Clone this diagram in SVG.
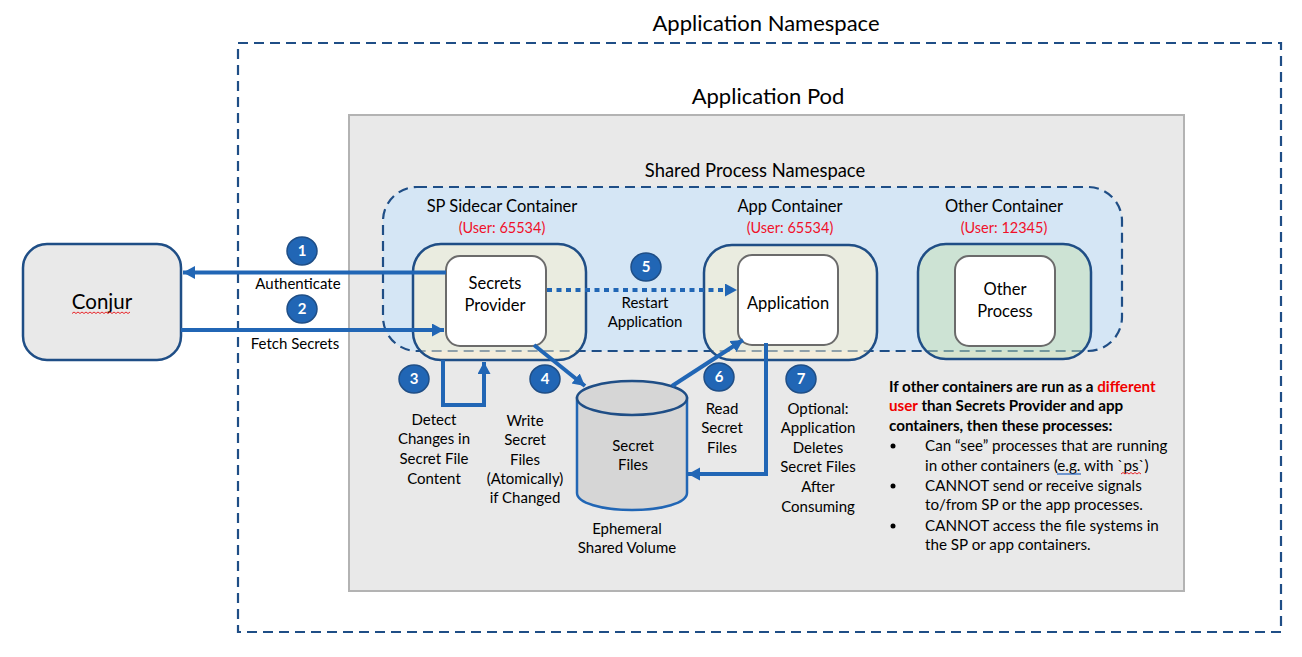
<svg xmlns="http://www.w3.org/2000/svg" width="1302" height="657" viewBox="0 0 1302 657">
<style>
text{font-family:"Lato","Carlito","Liberation Sans",sans-serif;fill:#000;text-anchor:middle}
.t{font-size:22px}.l{font-size:15px}.h{font-size:16.5px}.s{font-size:18.4px}.r{font-size:14.5px;fill:#f0102a}
.n{font-size:15px;fill:#fff;font-weight:700}
.b{font-size:15.2px;text-anchor:start}.bb{font-weight:700}.red{fill:#f00000}
.ctr{stroke:#1f4e86;stroke-width:2.5}
.yl{fill:#fff2cc;fill-opacity:.5}
.box{fill:#fff;stroke:#6b6b6b;stroke-width:2}
.dash{fill:none;stroke:#1f4e86;stroke-width:2.2;stroke-dasharray:10 6}
.c{fill:#2166b5;stroke:#1f4e86;stroke-width:1.5}
.a{fill:none;stroke:#2166b5;stroke-width:4}
.sq{fill:none;stroke:#e8262a;stroke-width:1}
</style>
<defs>
<marker id="ah" markerUnits="userSpaceOnUse" markerWidth="13" markerHeight="14" refX="12" refY="6.5" orient="auto"><path d="M0 0L12 6.5L0 13Z" fill="#2166b5"/></marker>
</defs>
<rect width="1302" height="657" fill="#fff"/>
<g id="namespace"><rect x="238" y="43" width="1043" height="589" class="dash"/><text x="766" y="31" class="t">Application Namespace</text></g>
<g id="pod"><rect x="349" y="115" width="835" height="476" fill="#e9e9e9" stroke="#b3b3b3" stroke-width="2"/><text x="768" y="104" class="t">Application Pod</text></g>
<g id="shared"><rect x="383" y="187" width="739" height="164" rx="34" class="dash" style="fill:#d5e6f5"/><text x="755" y="177" class="s">Shared Process Namespace</text></g>
<g id="conjur"><rect x="23" y="244" width="158" height="116" rx="24" fill="#e9e9e9" class="ctr"/><text x="102" y="309" style="font-size:20.500px">Conjur</text><path class="sq" d="M72 313.500l2-1.500 2 1.500 2-1.500 2 1.500 2-1.500 2 1.500 2-1.500 2 1.500 2-1.500 2 1.500 2-1.500 2 1.500 2-1.500 2 1.500 2-1.500 2 1.500 2-1.500 2 1.500 2-1.500 2 1.500 2-1.500 2 1.500 2-1.500 2 1.500 2-1.500 2 1.500 2-1.500 2 1.500 2-1.500"/></g>
<g id="sp-container"><rect x="413" y="244" width="173" height="116" rx="28" class="yl ctr"/><text x="502" y="212" class="h">SP Sidecar Container</text><text x="502" y="233" class="r">(User: 65534)</text></g>
<g id="secrets-provider"><rect x="446" y="256" width="100" height="90" rx="14" class="box"/><text x="495" y="289" class="h">Secrets</text><text x="495" y="311" class="h">Provider</text></g>
<g id="app-container"><rect x="704" y="245" width="173" height="115" rx="28" class="yl ctr"/><text x="790" y="212" class="h">App Container</text><text x="790" y="233" class="r">(User: 65534)</text></g>
<g id="application"><rect x="738" y="255" width="100" height="90" rx="14" class="box"/><text x="788" y="309" class="h">Application</text></g>
<g id="other-container"><rect x="918" y="244" width="173" height="115" rx="28" fill="#c5e0b4" fill-opacity=".5" class="ctr"/><text x="1004" y="212" class="h">Other Container</text><text x="1004" y="233" class="r">(User: 12345)</text></g>
<g id="other-process"><rect x="955" y="256" width="100" height="90" rx="14" class="box"/><text x="1005" y="295" class="h">Other</text><text x="1005" y="317" class="h">Process</text></g>
<g id="volume"><path d="M577 398V493C577 503 602 510 632 510S687 503 687 493V398Z" fill="#d6d6d6" stroke="#2166b5" stroke-width="2.500"/><ellipse cx="632" cy="398" rx="55" ry="17" fill="#d6d6d6" stroke="#1f4e86" stroke-width="2.500"/><text x="633" y="451" class="l">Secret</text><text x="633" y="470" class="l">Files</text><text x="627" y="534" class="l">Ephemeral</text><text x="627" y="553" class="l">Shared Volume</text></g>
<g id="connectors">
<path class="a" marker-end="url(#ah)" d="M446 272.500H183"/>
<path class="a" marker-end="url(#ah)" d="M181 330H444"/>
<path class="a" stroke-dasharray="5 4.500" marker-end="url(#ah)" d="M547 290H737"/>
<path class="a" marker-end="url(#ah)" d="M443 360V405H484V362"/>
<path class="a" marker-end="url(#ah)" d="M534 345L585 386"/>
<path class="a" marker-end="url(#ah)" d="M672 386L743 340"/>
<path class="a" marker-end="url(#ah)" d="M766 343V474H688"/>
</g>
<g id="badge-1"><ellipse cx="302" cy="251" rx="15" ry="14" class="c"/><text x="302" y="256" class="n">1</text></g>
<g id="badge-2"><ellipse cx="302" cy="309" rx="15" ry="14" class="c"/><text x="302" y="314" class="n">2</text></g>
<g id="badge-3"><ellipse cx="414" cy="379" rx="15" ry="14" class="c"/><text x="414" y="384" class="n">3</text></g>
<g id="badge-4"><ellipse cx="545" cy="379" rx="15" ry="14" class="c"/><text x="545" y="384" class="n">4</text></g>
<g id="badge-5"><ellipse cx="646" cy="267" rx="15" ry="14" class="c"/><text x="646" y="272" class="n">5</text></g>
<g id="badge-6"><ellipse cx="719" cy="377" rx="15" ry="14" class="c"/><text x="719" y="382" class="n">6</text></g>
<g id="badge-7"><ellipse cx="801" cy="379" rx="15" ry="14" class="c"/><text x="801" y="384" class="n">7</text></g>
<g id="labels" class="l">
<text x="298" y="289" class="l">Authenticate</text>
<text x="295" y="349" class="l">Fetch Secrets</text>
<text x="645" y="308" class="l">Restart</text>
<text x="645" y="327" class="l">Application</text>
<text x="434" y="425" class="l">Detect</text><text x="434" y="444" class="l">Changes in</text><text x="434" y="464" class="l">Secret File</text><text x="434" y="484" class="l">Content</text>
<text x="525" y="426" class="l">Write</text><text x="525" y="445" class="l">Secret</text><text x="525" y="465" class="l">Files</text><text x="525" y="484" class="l">(Atomically)</text><text x="525" y="503" class="l">if Changed</text>
<text x="722" y="414" class="l">Read</text><text x="722" y="433" class="l">Secret</text><text x="722" y="453" class="l">Files</text>
<text x="818" y="414" class="l">Optional:</text><text x="818" y="433" class="l">Application</text><text x="818" y="453" class="l">Deletes</text><text x="818" y="472" class="l">Secret Files</text><text x="818" y="492" class="l">After</text><text x="818" y="512" class="l">Consuming</text>
</g>
<g id="note">
<text x="889" y="392" class="b bb">If other containers are run as a <tspan class="red">different</tspan></text>
<text x="889" y="411" class="b bb"><tspan class="red">user</tspan> than Secrets Provider and app</text>
<text x="889" y="431" class="b bb">containers, then these processes:</text>
<circle cx="893" cy="446" r="2.500"/><circle cx="893" cy="486" r="2.500"/><circle cx="893" cy="526" r="2.500"/>
<text x="925" y="451" class="b">Can “see” processes that are running</text>
<text x="925" y="471" class="b">in other containers (e.g. with `ps`)</text>
<text x="925" y="491" class="b">CANNOT send or receive signals</text>
<text x="925" y="510" class="b">to/from SP or the app processes.</text>
<text x="925" y="531" class="b">CANNOT access the file systems in</text>
<text x="925" y="550" class="b">the SP or app containers.</text>
<path d="M1057 474H1081" fill="none" stroke="#1f5fbf" stroke-width="1.200"/>
<path class="sq" d="M1121 474l2-1.500 2 1.500 2-1.500 2 1.500 2-1.500 2 1.500 2-1.500 2 1.500 2-1.500 2 1.500"/>
</g>
</svg>
